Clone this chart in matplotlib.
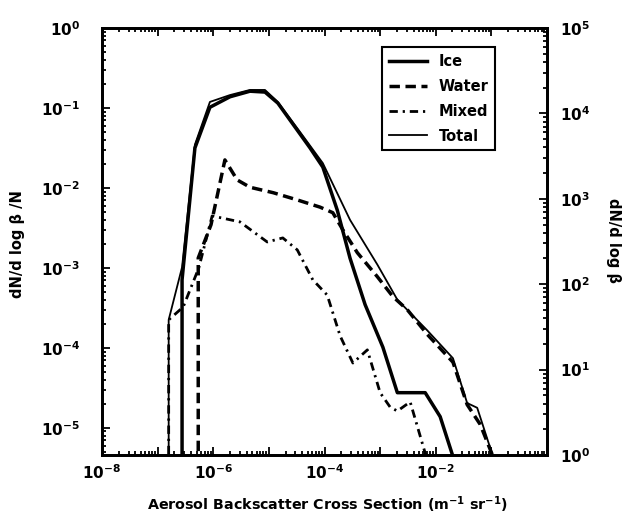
import numpy as np
import matplotlib
matplotlib.use("Agg")
import matplotlib.pyplot as plt
from matplotlib.ticker import LogLocator, FuncFormatter, NullFormatter

plt.rcParams['font.family'] = ['DejaVu Sans']
plt.rcParams['font.weight'] = 'bold'
plt.rcParams['mathtext.fontset'] = 'dejavusans'
plt.rcParams['mathtext.default'] = 'bf'
plt.rcParams['lines.scale_dashes'] = False

# Backscatter cross section (m^-1 sr^-1) and normalized distribution dN/dlogβ / N
ice_beta = [2.75e-7, 2.75e-7, 4.68e-7, 8.71e-7, 2.0e-6, 4.57e-6, 8.51e-6, 1.45e-5,
            5.50e-5, 9.33e-5, 1.70e-4, 2.88e-4, 5.37e-4, 1.12e-3, 2.04e-3,
            6.46e-3, 1.20e-2, 2.04e-2]
ice_frac = [0.0, 7.1e-4, 3.16e-2, 0.102, 0.138, 0.162, 0.158, 0.115,
            3.16e-2, 1.82e-2, 5.25e-3, 1.32e-3, 3.47e-4, 1.02e-4, 2.75e-5,
            2.75e-5, 1.38e-5, 4.37e-6]

water_beta = [5.37e-7, 5.37e-7, 9.12e-7, 1.62e-6, 2.69e-6, 4.57e-6, 1.20e-5, 3.24e-5,
              8.32e-5, 1.41e-4, 2.14e-4, 3.89e-4, 8.91e-4, 1.70e-3, 3.09e-3,
              7.0e-3, 2.04e-2, 3.67e-2, 6.31e-2, 0.107]
water_frac = [0.0, 1.33e-3, 3.47e-3, 2.24e-2, 1.26e-2, 1.02e-2, 8.71e-3, 7.08e-3,
              5.75e-3, 4.90e-3, 2.99e-3, 1.55e-3, 7.76e-4, 4.37e-4, 2.99e-4,
              1.48e-4, 6.61e-5, 1.95e-5, 1.10e-5, 4.37e-6]

mixed_beta = [1.58e-7, 1.58e-7, 2.88e-7, 5.50e-7, 9.55e-7, 3.02e-6, 9.33e-6, 1.78e-5,
              3.24e-5, 6.17e-5, 1.12e-4, 1.91e-4, 3.24e-4, 5.89e-4, 1.0e-3,
              1.51e-3, 2.04e-3, 3.47e-3, 7.0e-3]
mixed_frac = [0.0, 2.24e-4, 3.24e-4, 1.0e-3, 4.47e-3, 3.76e-3, 2.11e-3, 2.37e-3,
              1.68e-3, 7.08e-4, 4.57e-4, 1.41e-4, 6.46e-5, 9.44e-5, 2.75e-5,
              1.82e-5, 1.62e-5, 2.11e-5, 3.98e-6]

total_beta = [1.58e-7, 1.58e-7, 2.75e-7, 4.68e-7, 8.71e-7, 2.0e-6, 4.57e-6, 8.51e-6,
              1.45e-5, 3.63e-5, 9.33e-5, 2.88e-4, 8.91e-4, 2.04e-3, 7.0e-3,
              2.04e-2, 3.67e-2, 5.56e-2, 0.107]
total_frac = [0.0, 2.24e-4, 1.02e-3, 3.47e-2, 0.119, 0.145, 0.168, 0.168,
              0.119, 5.01e-2, 2.04e-2, 3.98e-3, 1.10e-3, 4.0e-4, 1.66e-4,
              7.41e-5, 2.04e-5, 1.78e-5, 4.37e-6]

x_label_exps = [-8, -6, -4, -2]

W, H = 623, 514
fig = plt.figure(figsize=(W / 100, H / 100), dpi=100)
ax = fig.add_axes([102 / W, 1 - 455 / H, 445 / W, 427 / H])

ax.plot(ice_beta, ice_frac, color='black', lw=2.5, ls='-', label='Ice',
        solid_joinstyle='round')
ax.plot(water_beta, water_frac, color='black', lw=2.5, ls=(0, (7.5, 4)),
        label='Water')
ax.plot(mixed_beta, mixed_frac, color='black', lw=2.0,
        ls=(0, (6, 3.5, 1.6, 3.5)), label='Mixed')
ax.plot(total_beta, total_frac, color='black', lw=1.3, ls='-', label='Total')

ax.set_xscale('log')
ax.set_yscale('log')
ax.set_xlim(1e-8, 1)
ax.set_ylim(10 ** -5.34, 1)

ax.xaxis.set_major_locator(LogLocator(base=10, numticks=20))
ax.xaxis.set_minor_locator(LogLocator(base=10, subs=np.arange(2, 10), numticks=20))
ax.xaxis.set_minor_formatter(NullFormatter())


def xfmt(v, pos):
    e = int(round(np.log10(v)))
    return r'$10^{%d}$' % e if e in x_label_exps else ''


ax.xaxis.set_major_formatter(FuncFormatter(xfmt))
ax.yaxis.set_major_locator(LogLocator(base=10, numticks=20))
ax.yaxis.set_minor_locator(LogLocator(base=10, subs=np.arange(2, 10), numticks=20))
ax.yaxis.set_minor_formatter(NullFormatter())

ax.tick_params(which='both', direction='in', top=True, right=False, width=1.3)
ax.tick_params(which='major', length=5.5)
ax.tick_params(which='minor', length=2.8)
ax.tick_params(axis='y', which='major', pad=16, labelsize=11)
ax.tick_params(axis='x', which='major', pad=6, labelsize=11)

ax2 = ax.twinx()
ax2.set_yscale('log')
ax2.set_ylim(1, 1e5)
ax2.yaxis.set_major_locator(LogLocator(base=10, numticks=20))
ax2.yaxis.set_minor_locator(LogLocator(base=10, subs=np.arange(2, 10), numticks=20))
ax2.yaxis.set_minor_formatter(NullFormatter())
ax2.tick_params(which='both', direction='in', width=1.3)
ax2.tick_params(which='major', length=5.5, pad=9, labelsize=11)
ax2.tick_params(which='minor', length=2.8)

for a in (ax, ax2):
    for s in a.spines.values():
        s.set_linewidth(2.0)

leg = ax.legend(loc='upper right', bbox_to_anchor=(0.883, 0.955),
                borderaxespad=0, fancybox=False, framealpha=1,
                edgecolor='black', fontsize=10.5, handlelength=2.6,
                handletextpad=0.8, labelspacing=0.68, borderpad=0.45)
leg.get_frame().set_linewidth(1.5)

fig.text(327 / W, 1 - 505 / H,
         r'Aerosol Backscatter Cross Section (m$^{-1}$ sr$^{-1}$)',
         ha='center', va='center', fontsize=10.3, fontweight='bold')
fig.text(18 / W, 1 - 244 / H, 'dN/d log β /N', rotation=90,
         ha='center', va='center', fontsize=10.5, fontweight='bold')
fig.text(613 / W, 1 - 240 / H, 'dN/d log β', rotation=-90,
         ha='center', va='center', fontsize=10.5, fontweight='bold')

fig.savefig('out.png', dpi=100)
